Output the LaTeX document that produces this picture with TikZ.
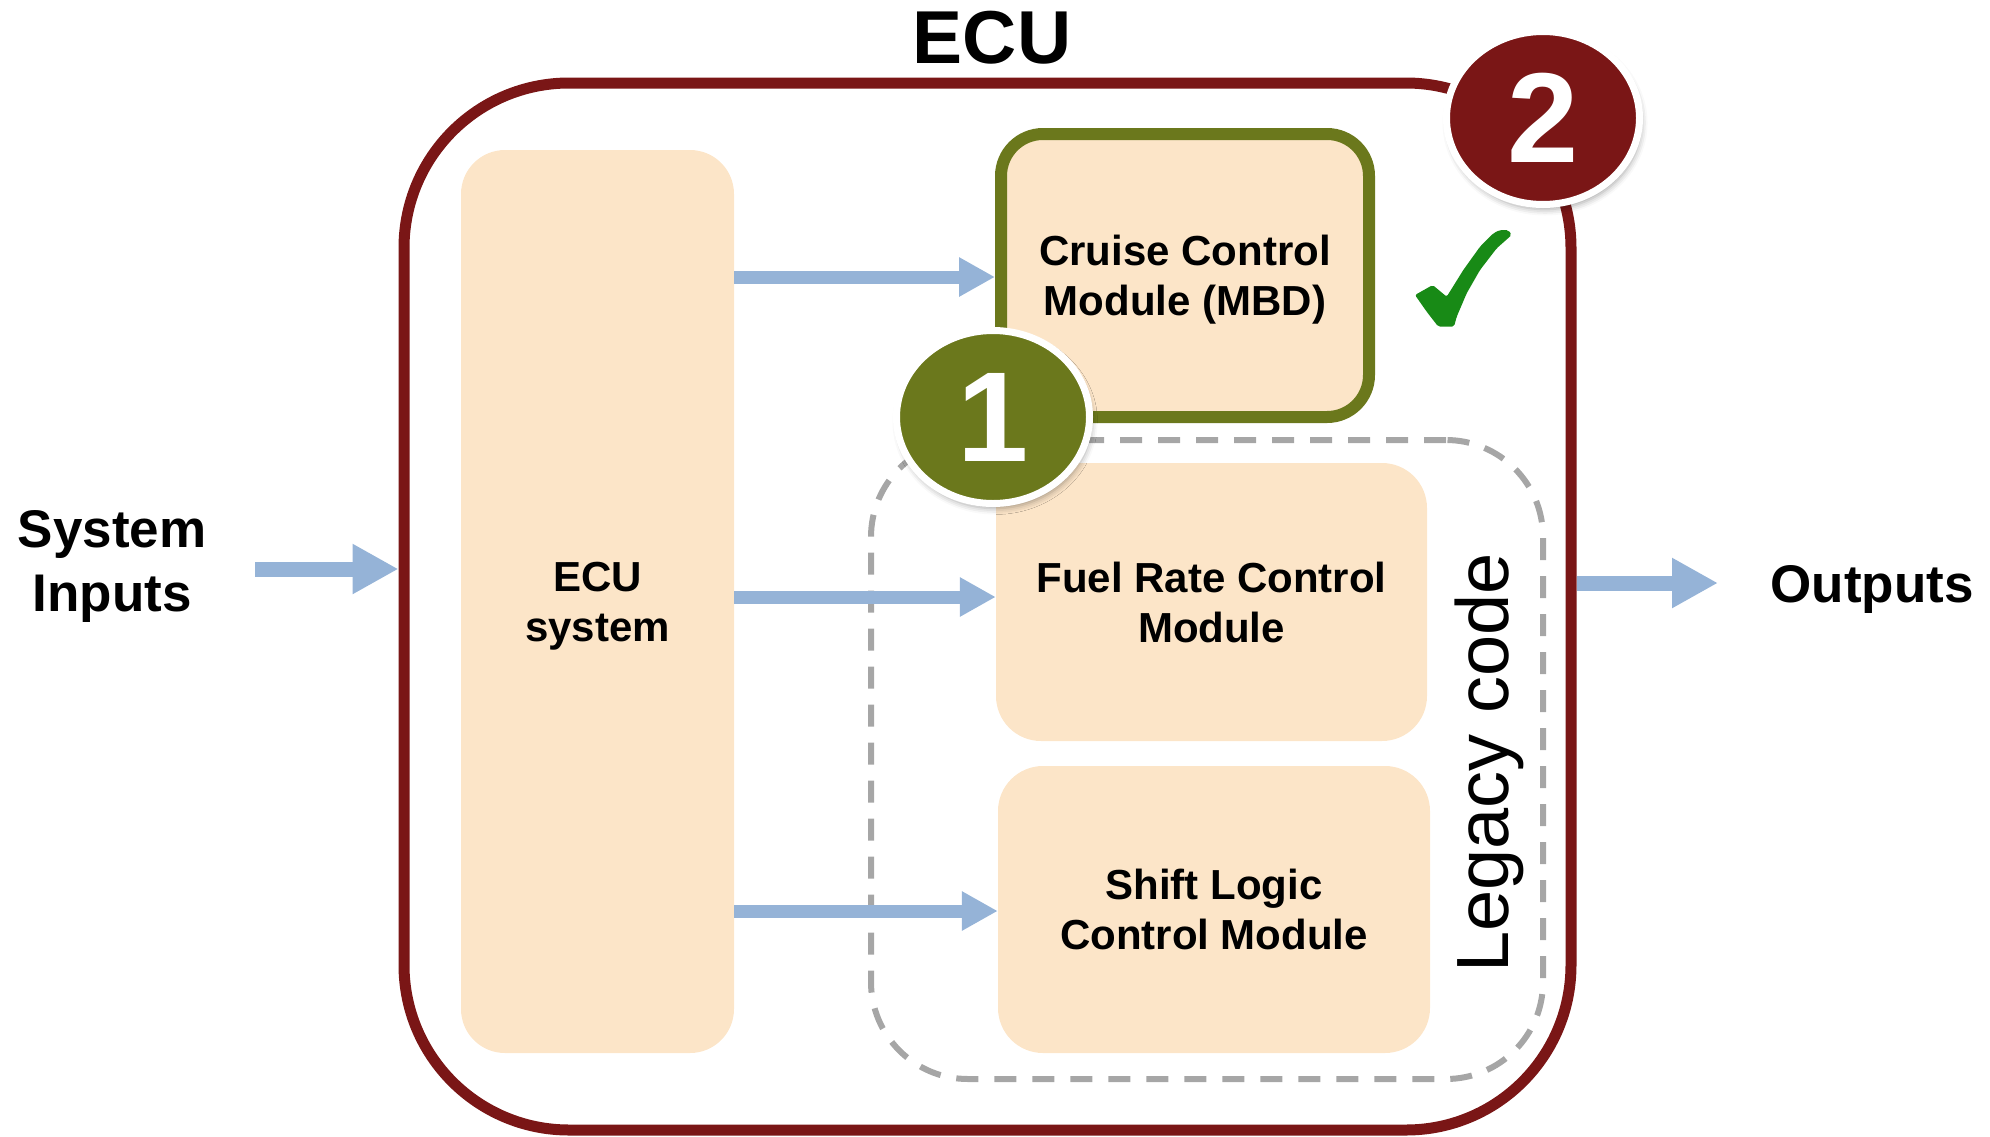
\documentclass[tikz,border=0pt]{standalone}
\usepackage{fontspec}
\setmainfont{Liberation Sans}
\usetikzlibrary{arrows.meta,shapes.geometric,shadows.blur}

\definecolor{ecured}{RGB}{122,22,22}
\definecolor{mbdolive}{RGB}{107,120,28}
\definecolor{peach}{RGB}{252,229,200}
\definecolor{flowblue}{RGB}{149,179,215}
\definecolor{dashgray}{RGB}{166,166,166}
\definecolor{checkgreen}{RGB}{24,138,22}

\begin{document}
\begin{tikzpicture}[x=1pt,y=-1pt,
  module/.style={rectangle, fill=peach, rounded corners=45pt, inner sep=0pt,
    align=center, text depth=0pt, font=\fontsize{42}{50}\selectfont\bfseries},
  flow/.style={draw=flowblue, line width=13pt, -{Triangle[length=36pt,width=37pt]}},
  bigflow/.style={draw=flowblue, line width=15pt, -{Triangle[length=46pt,width=47pt]}},
  badge/.style={ellipse, draw=white, line width=7pt, minimum width=193pt,
    minimum height=173pt, inner sep=0pt, text=white,
    font=\fontsize{128}{140}\selectfont\bfseries,
    blur shadow={shadow xshift=2pt, shadow yshift=-5pt, shadow blur radius=6pt, shadow opacity=35}},
  outerlabel/.style={font=\fontsize{53}{64}\selectfont\bfseries, align=center}
]
\useasboundingbox (0,0) rectangle (1990,1136);

% ECU enclosure and title
\node[draw=ecured, line width=11pt, rounded corners=165pt, minimum width=1167pt,
      minimum height=1047pt, inner sep=0pt] (ecu) at (987.5,606.5) {};
\node[font=\fontsize{75}{90}\selectfont\bfseries] (title) at (992,38) {ECU};

% ECU system block
\node[module, minimum width=273pt, minimum height=903pt, rounded corners=44pt]
      (ecusys) at (597.5,601.5) {ECU\\system};

% legacy code group
\node[draw=dashgray, line width=6pt, dash pattern=on 22pt off 16pt,
      rounded corners=97pt, minimum width=672pt, minimum height=639pt, inner sep=0pt]
      (legacy) at (1207,759.5) {};

% modules
\node[module, minimum width=431pt, minimum height=278pt] (fuel) at (1211.5,602)
      {Fuel Rate Control\\Module};
\node[module, minimum width=432pt, minimum height=287pt] (shift) at (1214,909.5)
      {Shift Logic\\Control Module};
\node[module, draw=mbdolive, line width=12pt, minimum width=368pt,
      minimum height=283pt, rounded corners=42pt] (cruise) at (1185,275.5)
      {Cruise Control\\Module (MBD)};

% signal flows inside the ECU
\draw[flow] (ecusys.east |- 0,277) -- (cruise.west |- 0,277);
\draw[flow] (ecusys.east |- 0,597) -- (fuel.west |- 0,597);
\draw[flow] (ecusys.east |- 0,911) -- (shift.west |- 0,911);

% system inputs and outputs
\coordinate (insrc) at (255,569);
\draw[bigflow] (insrc) -- (ecu.west |- insrc);
\node[outerlabel] (inputs) at (112,566.5) {System\\Inputs};

\coordinate (outdst) at (1718,583);
\draw[bigflow] (ecu.east |- outdst) -- (outdst);
\node[outerlabel, anchor=base] (outputs) at (1872,602) {Outputs};

% numbered badges
\node[badge, fill=mbdolive] (one) at (993,417) {1};
\node[badge, fill=ecured] (two) at (1543,118) {2};

% check mark
\fill[checkgreen, rounded corners=2pt]
  (1415,295) -- (1432.7,285) -- (1446.7,296.7) -- (1463.3,270) -- (1480,246.7)
  -- (1493.3,233.3) -- (1500,230) -- (1508.3,230) -- (1511.7,235) -- (1496.7,248.3)
  -- (1480,270) -- (1466.7,293.3) -- (1456.7,316.7) -- (1454,326.7)
  -- (1438.3,326.7) -- (1426.7,311.7) -- cycle;

% group label
\node[rotate=90, anchor=base, font=\fontsize{74}{80}\selectfont] (legacytext)
      at (1508,763) {Legacy code};
\end{tikzpicture}
\end{document}
